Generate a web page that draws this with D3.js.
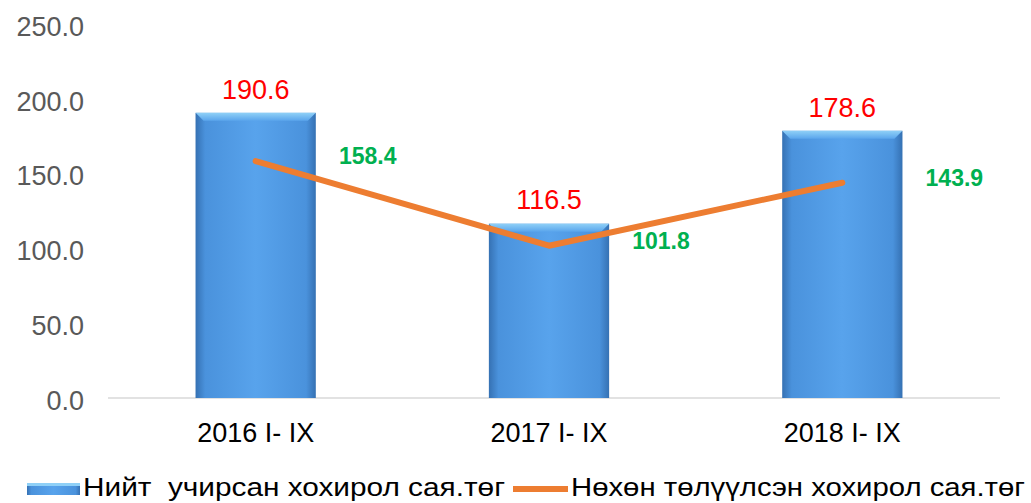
<!DOCTYPE html>
<html>
<head>
<meta charset="utf-8">
<script src="https://cdn.jsdelivr.net/npm/d3@7"></script>
<style>
  body { margin: 0; background: #fff; }
  svg { display: block; }
</style>
</head>
<body>
<svg id="chart"></svg>
<script>
// data
const categories = ['2016 I- IX', '2017 I- IX', '2018 I- IX'];
const damage = [190.6, 116.5, 178.6];
const restored = [158.4, 101.8, 143.9];
const yTicks = [0, 50, 100, 150, 200, 250];
const legendLabels = ['Нийт  учирсан хохирол сая.төг', 'Нөхөн төлүүлсэн хохирол сая.төг'];

const width = 1031, height = 503;
const svg = d3.select('#chart').attr('width', width).attr('height', height);

const x = d3.scaleBand().domain(categories).range([109, 989]).paddingInner(0.59).paddingOuter(0.295);
const y = d3.scaleLinear().domain([0, 250]).range([398, 24]);

const font = 'Liberation Sans, Arial, sans-serif';

// gradient for bars
const defs = svg.append('defs');
const g1 = defs.append('linearGradient').attr('id', 'barGrad').attr('x1', 0).attr('x2', 1).attr('y1', 0).attr('y2', 0);
g1.append('stop').attr('offset', '0%').attr('stop-color', '#3571b3');
g1.append('stop').attr('offset', '8%').attr('stop-color', '#4a92dc');
g1.append('stop').attr('offset', '50%').attr('stop-color', '#58a3ec');
g1.append('stop').attr('offset', '92%').attr('stop-color', '#4a92dc');
g1.append('stop').attr('offset', '100%').attr('stop-color', '#3571b3');
const g2 = defs.append('linearGradient').attr('id', 'topGrad').attr('x1', 0).attr('x2', 0).attr('y1', 0).attr('y2', 1);
g2.append('stop').attr('offset', '0%').attr('stop-color', '#8fd0f7');
g2.append('stop').attr('offset', '100%').attr('stop-color', '#5aa5ec');

// y axis labels
svg.append('g')
  .selectAll('text')
  .data(yTicks)
  .enter().append('text')
  .attr('x', 84)
  .attr('y', d => y(d) + 2)
  .attr('dy', '0.36em')
  .attr('text-anchor', 'end')
  .attr('fill', '#595959')
  .style('font-family', font)
  .style('font-size', '27px')
  .text(d => d.toFixed(1));

// baseline
svg.append('line')
  .attr('x1', 108).attr('x2', 1000)
  .attr('y1', y(0)).attr('y2', y(0))
  .attr('stroke', '#d9d9d9').attr('stroke-width', 1.5);

// bars
const bars = svg.append('g').selectAll('g.bar')
  .data(categories)
  .enter().append('g').attr('class', 'bar');

bars.append('rect')
  .attr('x', d => x(d))
  .attr('y', (d, i) => y(damage[i]))
  .attr('width', x.bandwidth())
  .attr('height', (d, i) => y(0) - y(damage[i]))
  .attr('fill', 'url(#barGrad)');

// top bevel
bars.append('path')
  .attr('d', (d, i) => {
    const x0 = x(d), x1 = x0 + x.bandwidth(), t = y(damage[i]), b = 8;
    return `M${x0},${t}L${x1},${t}L${x1 - b},${t + b}L${x0 + b},${t + b}Z`;
  })
  .attr('fill', 'url(#topGrad)');

// line
const line = d3.line()
  .x((d, i) => x(categories[i]) + x.bandwidth() / 2)
  .y(d => y(d));

svg.append('path')
  .datum(restored)
  .attr('fill', 'none')
  .attr('stroke', '#ed7d31')
  .attr('stroke-width', 6)
  .attr('stroke-linecap', 'round')
  .attr('stroke-linejoin', 'round')
  .attr('d', line);

// bar value labels
svg.append('g').selectAll('text')
  .data(damage)
  .enter().append('text')
  .attr('x', (d, i) => x(categories[i]) + x.bandwidth() / 2)
  .attr('y', d => y(d) - 24)
  .attr('dy', '0.36em')
  .attr('text-anchor', 'middle')
  .attr('fill', '#ff0000')
  .style('font-family', font)
  .style('font-size', '27px')
  .text(d => d.toFixed(1));

// line value labels
svg.append('g').selectAll('text')
  .data(restored)
  .enter().append('text')
  .attr('x', (d, i) => x(categories[i]) + x.bandwidth() / 2 + 112)
  .attr('y', d => y(d) - 5)
  .attr('dy', '0.36em')
  .attr('text-anchor', 'middle')
  .attr('fill', '#00b050')
  .style('font-family', font)
  .style('font-weight', 'bold')
  .style('font-size', '23px')
  .text(d => d.toFixed(1));

// category labels
svg.append('g').selectAll('text')
  .data(categories)
  .enter().append('text')
  .attr('x', d => x(d) + x.bandwidth() / 2)
  .attr('y', 432)
  .attr('dy', '0.36em')
  .attr('text-anchor', 'middle')
  .attr('fill', '#000')
  .style('font-family', font)
  .style('font-size', '27px')
  .text(d => d);

// legend
const lg = svg.append('g');
lg.append('rect')
  .attr('x', 27).attr('y', 483).attr('width', 53).attr('height', 12)
  .attr('fill', 'url(#barGrad)');
lg.append('rect')
  .attr('x', 27).attr('y', 483).attr('width', 53).attr('height', 3)
  .attr('fill', '#8fd0f7');
lg.append('text')
  .attr('x', 83).attr('y', 487).attr('dy', '0.36em')
  .attr('textLength', 422).attr('lengthAdjust', 'spacingAndGlyphs')
  .style('font-family', 'Liberation Sans Narrow, Liberation Sans, Arial, sans-serif')
  .style('font-size', '25px')
  .style('white-space', 'pre')
  .attr('fill', '#000')
  .text(legendLabels[0]);
lg.append('line')
  .attr('x1', 513).attr('x2', 568).attr('y1', 489).attr('y2', 489)
  .attr('stroke', '#ed7d31').attr('stroke-width', 6);
lg.append('text')
  .attr('x', 571).attr('y', 487).attr('dy', '0.36em')
  .attr('textLength', 454).attr('lengthAdjust', 'spacingAndGlyphs')
  .style('font-family', 'Liberation Sans Narrow, Liberation Sans, Arial, sans-serif')
  .style('font-size', '25px')
  .attr('fill', '#000')
  .text(legendLabels[1]);
</script>
</body>
</html>
